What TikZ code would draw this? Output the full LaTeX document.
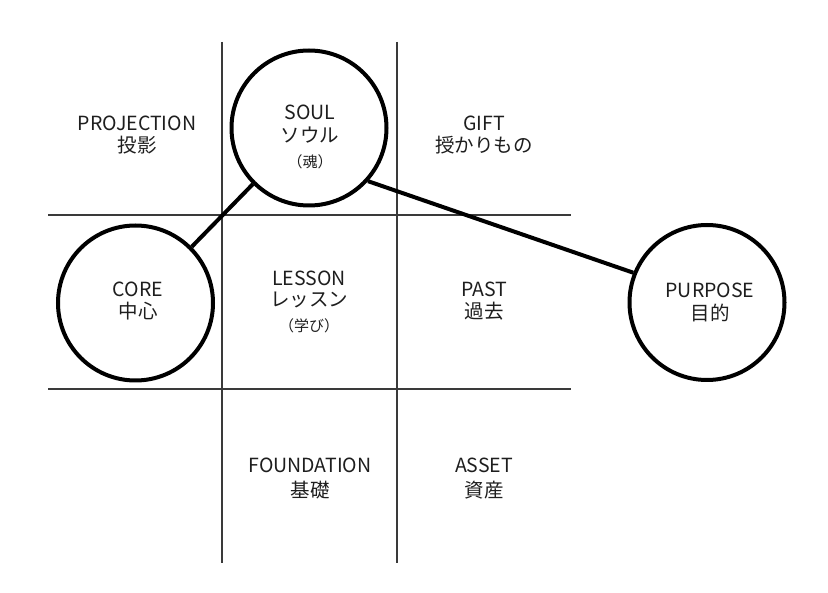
\documentclass[tikz,border=0pt]{standalone}
\usepackage{fontspec}
\setmainfont{Noto Sans CJK JP}
\definecolor{gridc}{HTML}{3A3A3A}
\definecolor{inkc}{HTML}{1E1E1E}
\begin{document}
\begin{tikzpicture}[x=1pt,y=-1pt,
  gridline/.style={draw=gridc,line width=1.4pt},
  ring/.style={circle,draw=black,fill=white,line width=4pt,minimum size=155pt,inner sep=0pt},
  link/.style={draw=black,line width=4pt},
  big/.style={font=\fontsize{19.5}{22}\selectfont,text=inkc,inner sep=0pt,anchor=center},
  small/.style={font=\fontsize{15}{17}\selectfont,text=inkc,inner sep=0pt,anchor=center}]
\useasboundingbox[fill=white] (0,0) rectangle (828,593);
% grid
\draw[gridline] (222,42) -- (222,563);
\draw[gridline] (397,42) -- (397,563);
\draw[gridline] (48,215) -- (571,215);
\draw[gridline] (48,389) -- (571,389);
% circles
\node[ring] (soul) at (309,128) {};
\node[ring] (core) at (135.5,303) {};
\node[ring] (purpose) at (707,302.5) {};
\draw[link] (core.45) -- (soul.225);
\draw[link] (soul.-42) -- (purpose.158);
% labels
\node[big] (projE) at (137,123) {PROJECTION};
\node[big] (projJ) at (137,145) {投影};
\node[big] (soulE) at (310,112) {SOUL};
\node[big] (soulJ) at (310,135) {ソウル};
\node[small] (soulK) at (310,162) {（魂）};
\node[big] (giftE) at (484,123) {GIFT};
\node[big] (giftJ) at (484,145) {授かりもの};
\node[big] (coreE) at (138,289) {CORE};
\node[big] (coreJ) at (138,311) {中心};
\node[big] (lessE) at (309,278) {LESSON};
\node[big] (lessJ) at (309,300) {レッスン};
\node[small] (lessK) at (309,326) {（学び）};
\node[big] (pastE) at (484,289) {PAST};
\node[big] (pastJ) at (484,311) {過去};
\node[big] (purpE) at (710,290) {PURPOSE};
\node[big] (purpJ) at (710,313) {目的};
\node[big] (foundE) at (310,465) {FOUNDATION};
\node[big] (foundJ) at (310,490) {基礎};
\node[big] (assetE) at (484,465) {ASSET};
\node[big] (assetJ) at (484,490) {資産};
\end{tikzpicture}
\end{document}
